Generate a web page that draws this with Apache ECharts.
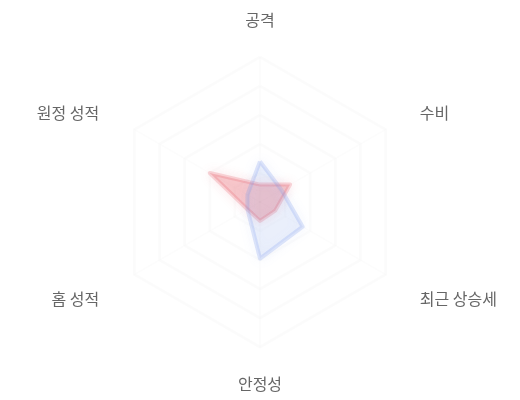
<!DOCTYPE html>
<html>
<head>
<meta charset="utf-8">
<script src="https://cdn.jsdelivr.net/npm/echarts@6/dist/echarts.min.js"></script>
<style>
  html, body { margin: 0; padding: 0; background: #fff; }
  #main { width: 520px; height: 400px; }
</style>
</head>
<body>
<div id="main"></div>
<script>
// 지표 - echarts goes counter-clockwise from the top
var indicators = ['공격', '원정 성적', '홈 성적', '안정성', '최근 상승세', '수비'];
var maxValue = 100;
// 두 팀의 값 (same order as indicators)
var teamBlue = [28, 10, 10, 39, 34, 17];
var teamRed = [12, 40, 10, 13, 12, 24];

// label side -> rich style key
var sideOf = { '원정 성적': 'ul', '홈 성적': 'll', '최근 상승세': 'lr', '수비': 'ur' };

var chart = echarts.init(document.getElementById('main'));

var txt = { color: '#666', fontSize: 16, fontFamily: 'Noto Sans CJK KR' };
function rs(pad) {
    return Object.assign({ padding: pad }, txt);
}

var option = {
    radar: {
        center: ['50%', '50.5%'],
        radius: 145,
        startAngle: 90,
        splitNumber: 5,
        axisName: Object.assign({
            formatter: function (name) {
                var k = sideOf[name];
                return k ? '{' + k + '|' + name + '}' : name;
            },
            rich: {
                ur: rs([0, 0, 5, 9]),
                lr: rs([19, 0, 0, 9]),
                ul: rs([0, 10, 5, 0]),
                ll: rs([19, 10, 0, 0])
            }
        }, txt),
        nameGap: 29,
        indicator: indicators.map(function (name) {
            return { name: name, max: maxValue };
        }),
        axisLine: { lineStyle: { color: 'rgba(0,0,0,0.012)', width: 2 } },
        splitLine: { lineStyle: { color: 'rgba(0,0,0,0.014)', width: 3, shadowBlur: 5, shadowColor: 'rgba(0,0,0,0.03)' } },
        splitArea: { show: false }
    },
    series: [{
        type: 'radar',
        symbol: 'none',
        data: [
            {
                value: teamRed,
                name: 'red',
                lineStyle: { color: 'rgba(232,100,110,0.25)', width: 4, shadowBlur: 12, shadowColor: 'rgba(232,100,110,0.45)' },
                areaStyle: { color: 'rgba(232,100,110,0.42)', shadowBlur: 12, shadowColor: 'rgba(232,100,110,0.35)' }
            },
            {
                value: teamBlue,
                name: 'blue',
                lineStyle: { color: 'rgba(120,150,235,0.24)', width: 4, shadowBlur: 12, shadowColor: 'rgba(120,150,235,0.45)' },
                areaStyle: { color: 'rgba(120,150,235,0.18)', shadowBlur: 12, shadowColor: 'rgba(120,150,235,0.25)' }
            }
        ]
    }]
};

chart.setOption(option);
</script>
</body>
</html>
